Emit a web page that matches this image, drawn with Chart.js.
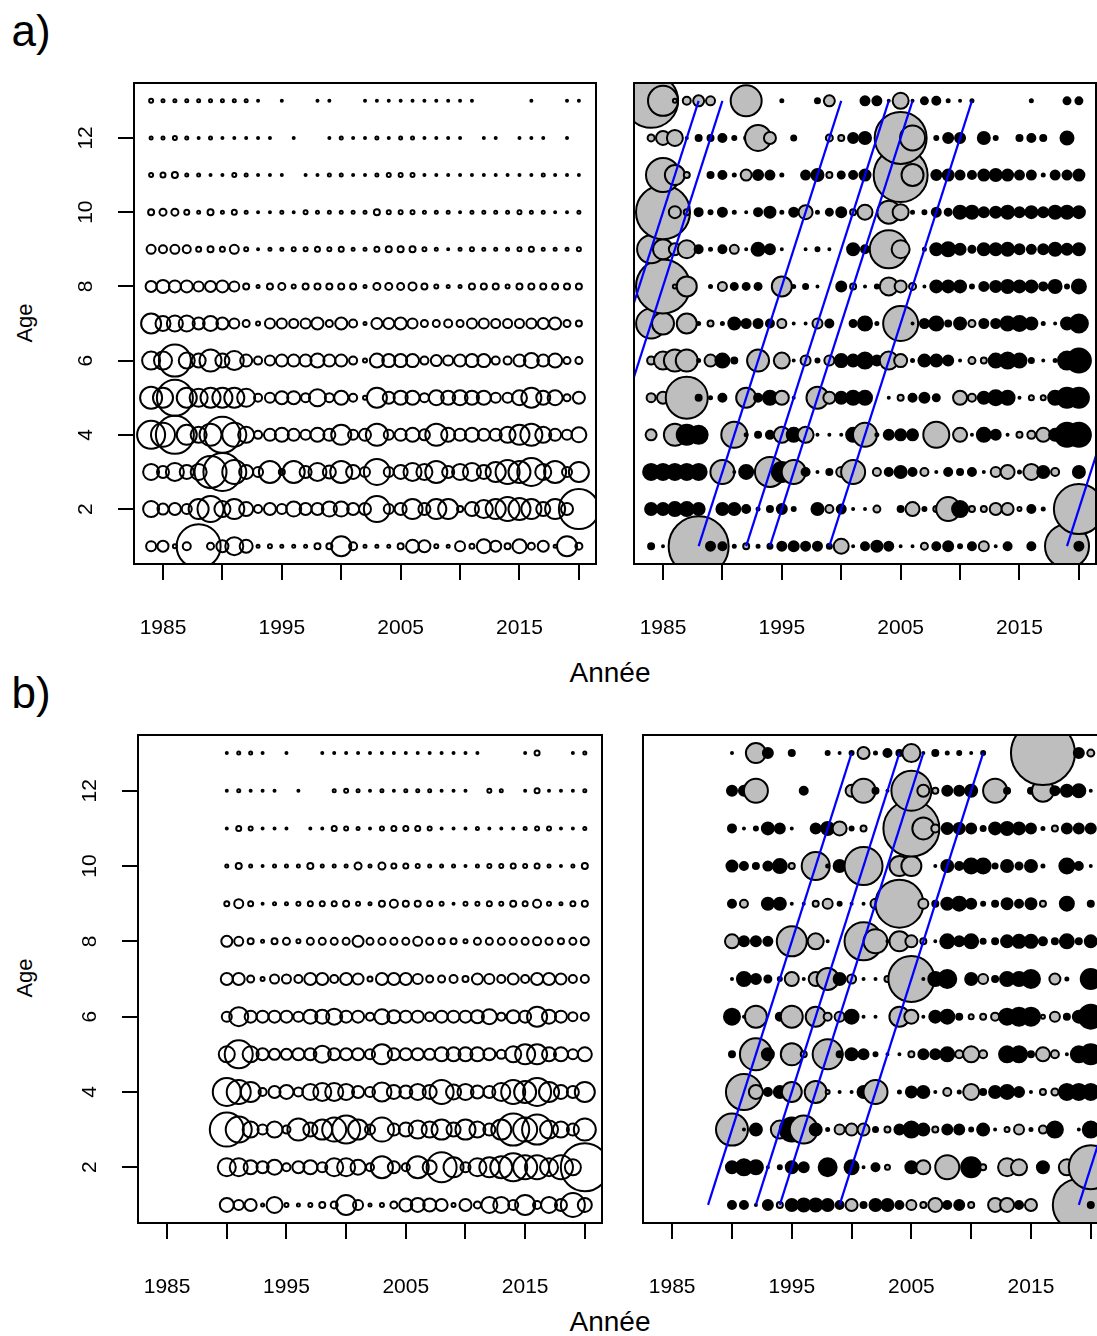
<!DOCTYPE html>
<html lang="fr">
<head>
<meta charset="UTF-8">
<script src="https://cdn.jsdelivr.net/npm/chart.js"></script>
<title>Bulles age / annee</title>
<style>
  body { margin: 0; width: 1097px; height: 1336px; overflow: hidden; background: #fff;
         font-family: "Liberation Sans", Arial, sans-serif; }
  canvas { position: absolute; }
  .lbl { position: absolute; color: #000; white-space: nowrap; line-height: 1; transform: translate(-50%, -50%); }
</style>
</head>
<body>

<div class="lbl" style="left:31px; top:31px; font-size:44px;">a)</div>
<div class="lbl" style="left:31px; top:693px; font-size:44px;">b)</div>
<div class="lbl" style="left:610px; top:673px; font-size:28px;">Année</div>
<div class="lbl" style="left:610px; top:1322px; font-size:28px;">Année</div>
<div class="lbl" style="left:25px; top:323px; font-size:22px; transform: translate(-50%, -50%) rotate(-90deg);">Age</div>
<div class="lbl" style="left:25px; top:978px; font-size:22px; transform: translate(-50%, -50%) rotate(-90deg);">Age</div>

<script>
// categories
const YEARS_A = [1984,1985,1986,1987,1988,1989,1990,1991,1992,1993,1994,1995,1996,1997,1998,1999,2000,2001,2002,
                 2003,2004,2005,2006,2007,2008,2009,2010,2011,2012,2013,2014,2015,2016,2017,2018,2019,2020];
const YEARS_B = [1990,1991,1992,1993,1994,1995,1996,1997,1998,1999,2000,2001,2002,2003,2004,2005,2006,2007,2008,
                 2009,2010,2011,2012,2013,2014,2015,2016,2017,2018,2019,2020];
const AGES = [13,12,11,10,9,8,7,6,5,4,3,2,1];
const X_TICKS = [1985,1990,1995,2000,2005,2010,2015,2020];
const X_LABELS = [1985,1995,2005,2015];
const Y_TICKS = [2,4,6,8,10,12];

// cohort lines (year at age 1)
const COHORTS_A = [1976,1978,1988,1992,1994,1999,2019];
const COHORTS_B = [1988,1992,1994,1999,2019];

// a) observed index, rows = ages 13..1, columns = YEARS_A
const obsA = [
  [2,1.5,1.5,1.5,1.5,1.5,1.5,1.5,1.5,1, 0,1,0,0,1,1,0,0,1,1, 1,1,1,1,1,1,1,1,0,0, 0,0,1,0,0,1,1],
  [1.5,1.5,2,1.5,1,1.5,1,1,1,1, 1,0,1,0,0,1,1.5,1,1,1.5, 1,1.5,1.5,1,1,1,1,0,1,1, 0,1,1,1,0,1,0],
  [2,2.5,3,1.5,1.5,1,1,2,1.5,1, 1,1,0,1,1,1.5,1.5,1,1,1.5, 2,2,2,1,1,1,1,1,1,1, 1,1,1,1.5,1,1,1],
  [3,3.5,3.5,2.5,1.5,3,1.5,2.5,1.5,1, 1,1.5,1,2,1.5,1.5,1.5,1.5,1.5,3, 2,2,2,1.5,1.5,1.5,1,1.5,1.5,1.5, 1.5,2,1.5,1.5,1,1,1.5],
  [4.5,4,4.5,4,2.5,3,2.5,4.5,2,1, 1.5,1.5,2,2,2.5,2,2.5,1.5,1.5,2.5, 3,3,3,2,1.5,1,1.5,2,1.5,1.5, 1.5,2,2.5,1.5,1.5,1.5,2],
  [5.5,6.5,6,6,5,5.5,6,5,3,1.5, 3,3.5,2,3,3,3,3,3,1.5,3.5, 3.5,3.5,4,3,2,1.5,1.5,3,3,3, 2,3,3,3,3,3,3],
  [10,7.5,8,8,6,7.5,6,5,3.5,2, 5,5,4.5,5,6,3.5,6,4,1.5,5.5, 5.5,6,5,3.5,3.5,4,3.5,5,5,4.5, 4.5,4.5,5,5.5,6,3.5,3],
  [9,9,16,8,7,11,7,9.5,6,4, 5,6,6,6,7,6,6,4,2,7, 6.5,6.5,6.5,4,5.5,5,6,6.5,6.5,4, 4,6,7.5,6,7,3.5,3.5],
  [11,10,18,10,9,10,10,10,9,4, 5,6.5,6.5,4.5,8.5,4.5,7,4,2,10, 6,7,7,4.5,7.5,7,7.5,7,7,5, 5,7.5,10,7,7.5,3.5,6],
  [14,12,19,10,8,11,18,12,8,4, 6,7,6,5,7,6,10,5,6,11, 5,6,7,5.5,11,7,6,7,6,6, 8,10,11,8,6,5,7.5],
  [8,6,9,7,8,16,19,12,7,5, 11,3,11,6,9,6.5,11,7,5,13, 5,7,9,8,11,6,8,9,7,10, 12,11,14,8,11,5,10],
  [8,5.5,6,5,10,13,8,10,7,4, 6,5,7.5,6,6,7.5,7.5,6,6,13, 5,6,10,6,10,10,3,7,9,10, 12,11,10,7,10,6,20],
  [5,5.5,2,4,22,3.5,6,9,6.5,1.5, 2,1.5,1.5,1.5,3,3,10,4,1.5,1.5, 1.5,3,6.5,6,2,1.5,5,2.5,7,5.5, 3,7,3.5,5.5,1.5,10,3.5]
];

// a) residuals (positive = grey, negative = black)
const resA = [
  [27,15,2,4,5.5,4.5,0,0,15.5,0, 0,-1.5,0,0,-2.5,5.5,0,0,-4.5,-4.5, -1,8,-1,-3.5,-4,-1.5,-1,-1.5,0,0, 0,0,-1.5,0,0,-3.5,-3.5],
  [3.5,7,8,-1,-3,-3,-4,-2,2,13, 6,0,-2.5,0,0,3.5,3,-5,-6,0, -1.5,26,12.5,0,-2,-5,-5,0,-6,-2, 0,-3,-4,-3,0,-6.5,0],
  [2.5,17,10,3,0,-3,-4,-1.5,5.5,-5, -4.5,-1.5,0,-4.5,-6,3,-3.5,-4,-5.5,0, 0,27,11,0,-5,-5.5,-4.5,-4,-5.5,-6, -5.5,-4.5,-4.5,-1.5,-4.5,-4.5,-5.5],
  [0,27,6,3,-4,-2,-4.5,-1.5,-1,-4, -5.5,-1.5,-4.5,7,-1.5,-3.5,-5,3,7.5,0, 11.5,8,-1.5,-2,-4.5,-3.5,-6.5,-6.5,-5,-5.5, -6.5,-5,-6,-5,-6.5,-6.5,-6],
  [14,10,6,9,-4,-1.5,-4,4.5,-1,-6.5, -5,-1,0,-1,-2,-1,0,-6,-4,0, 19,9,0,-1.5,-6,-7,-5.5,-3.5,-6,-6, -6.5,-5,-4.5,-5,-6.5,-5.5,-6],
  [0,27,2,10,0,-1.5,4.5,-3.5,-3.5,-3.5, 0,10,-1.5,-2.5,-1,0,-5,3,-1,-2, 9,6,3.5,-1,-6,-6,-6,-2,-4.5,-5.5, -6.5,-6,-6,-4,-6.5,-2,-7],
  [15,11,0,10,-1.5,3,-1.5,-6,-4.5,-4.5, -4,4.5,-1,-1,5,-4,0,-3.5,-7,-1.5, 0,17.5,-1,-4.5,-7,-3,-6,3.5,-4.5,-4.5, -7,-7.5,-6,-1.5,-1,-6,-9],
  [4,9,11,11,-1.5,6,-7,-3,0,11, 0,8,-1,5,-2,5,-6.5,-6,-8,-5, 9,6.5,-1.5,-6,-6,-5,-1,3.5,3,-7, -8,-7,-2.5,-1,-1.5,-9,-12],
  [4.5,6,0,21,-3,-1.5,-4,0,10,-4, -7,7,-1,0,11,6,-6,-7,-7,0, -1,3,-4,-5,-3.5,0,7,4,-6,-7.5, -7,-1,2.5,2.5,-7,-10,-10],
  [5.5,0,11,-10,-9,0,0,13,-1.5,-3, -4,8,-7,8,-1,-1,-1,-7,12,-1.5, -5,-5.5,-5.5,0,13,0,7,-1,-7,-5, -1,3,4,7,-6,-12,-12],
  [-8,-8,-8,-8,-8,0,12,-1,-7,0, 15,-10,12,-4,-1,-3,5,12,0,4, -4,-6,-4,4,-1,-4,-3,-4,-1,5, 7,-1.5,8,-6,4,0,-6],
  [-6,-6,-7,-7,-6,0,-6,-6,-4,-1.5, -3,-5,-2,0,-6,4,-4.5,-1,-1,3.5, 0,-3,7,-2,3,12,-8,3,3,6, 6,2,-4,-1.5,0,0,25],
  [-3,-1,-4.5,-4,30,-4.5,-4,-1.5,3,-1.5, -2.5,-4.5,-5,-4.5,-4.5,-2.5,7.5,-1,-4,-5.5, -4.5,-1,-1,3.5,-4,-5,-2,-4,5,-1, -4,0,-4,0,0,22,-4.5]
];

// b) observed index, columns = YEARS_B
const obsB = [
  [1,1.5,1.5,1,0,1,0,0,1,1, 1,1,1,1,1,1,1,1,1,1, 1,1,0,0,0,1,2.5,0,0,1, 1.5],
  [1,1.5,1,1,1,0,1,0,0,1.5, 2,1.5,1,1.5,1,1.5,1.5,1.5,1,1, 1,0,2,1.5,0,1,2.5,1,1,1, 1.5],
  [1,2.5,2,1,1,1,0,1,1,2.5, 2,1.5,1,2,2.5,2.5,2.5,2,1,1, 1,1.5,1,1,1,1.5,2,2,1,1, 1.5],
  [1.5,3,1.5,1,1.5,1.5,1.5,3,1.5,1.5, 1.5,3.5,1.5,3.5,2.5,2.5,2,1.5,1.5,1.5, 1,1.5,2,2,2.5,2,2.5,1.5,1,1.5, 3],
  [2.5,4.5,2.5,1,1.5,1.5,2,2.5,2.5,2.5, 3,2,1.5,3,4,3,3,2.5,2,1, 2,2,2.5,2,3,2.5,4,2,1.5,2.5, 3],
  [5.5,4.5,3,1.5,3,3.5,2,3.5,3.5,3.5, 3.5,5.5,3.5,3.5,3.5,3.5,4.5,3.5,3,3, 2,3.5,3.5,3.5,3.5,3.5,4,3.5,3,3.5, 4],
  [6,6,3.5,2,4.5,4.5,4,6,6,4, 6,5.5,2.5,6,6,6,5,3.5,3.5,4, 3,5.5,5,4,5.5,4,6,6,5.5,4, 4],
  [5,9.5,6,6,6,6,5,7,7,8, 6,6,4,7.5,6.5,6,6,4.5,6,6, 6,6.5,7.5,4,6.5,6,10,7,6,4.5, 4],
  [8,14,8,6,5.5,5.5,6,6,8.5,6, 6,6,5,10,6,6,6,5.5,7,7, 7,7,6,4.5,8,10,10,7,7,5, 7],
  [14,12,10,4,6,7,4.5,8,9,9, 8,6,5,9.5,7,6.5,8,7,12,7.5, 8,6.5,6,9,12,11,14,10,7,6, 10],
  [17,13,8,5,8,4,11,7,10,12, 14,10,5,12,6,7,9,8,10,7, 10,8,6,10,16,12,15,9,8,6, 11],
  [9,9,7,6,7.5,4,6,7,5,9, 9,7.5,4,11,6,4,11,7,15,10, 5,9,10,11,14,12,12,9,12,8, 24],
  [7,5,6,1.5,8,2,1.5,2,3,3.5, 10,5,1.5,2,3.5,6.5,7,6.5,6,2, 6,3.5,8,8,5,10,4,8,6,12, 7]
];

// b) residuals
const resB = [
  [-1,0,10,-5,0,-3,0,0,-2,-1, -2,6,-1.5,-4,-3,9,-1,-3,-1.5,-2, -1,-2,0,0,0,0,32,0,0,-5, 3.5],
  [-5,-5,12,0,0,0,-4,0,0,0, 6,12,-3,-1,-1.5,20,6,3,-5,-5, -6,0,12,-3,0,-3,11,-4.5,-6,-6.5, -1],
  [-4,-1,-2,-6,-5,-1,0,-5,-6.5,7, -2,3,0,0,0,28,11,4,-5.5,-5.5, -5,-2.5,-6,-6.5,-6,-5,-1.5,3,-5,-5, -5],
  [-5.5,-4,-3,-4.5,-7,3,0,14,-1.5,-6, 0,19,0,0,10,10,0,-1,-6,-4, -7.5,-7.5,-2.5,-6,-3.5,-6,-1.5,0,-7.5,-4, -1],
  [-4,4,0,-6,-6,-1,-1,3,5,-2, -1,-1,5,0,24,0,5,-3,-6,-7, -5,-2,-3,-5.5,-4,-5.5,3,0,-7,0, -3],
  [7,-5,-5,-4.5,0,15,0,8,-1,0, 0,19,12,-1,10,6,3,-1,-7,-5, -7,-2.5,-3,-6,-6.5,-6.5,-4,-3,-7,-3, -6],
  [-1,-7,-5,-3.5,-2,7,-1,7,11,-6, 4.5,-1,-1,3,0,23,-1,-7,-9,0, -6,5,-3,-7,-7,-9,0,5.5,-1.5,0, -10],
  [-8,-1,11,0,-4,11,0,10,4,5, -7,-1,-1,0,10,7,-1,-6,-7,-3, 2.5,3,4,-8,-9,-9,2,5,-3,-6, -12],
  [-3,0,16,-6,0,11,3,0,15,-3, -6,-5,-2,-1,-1,3,-5,-5,-7,4, 8,4,0,-8,-8,-3,7,4,-1,-8, -10],
  [3,18,7,-4,-6,10,0,11,2,-1, -1,-6,12,0,-1.5,-5.5,-6,-1,4,-1.5, 8,-3,-6,-7,-5,-1,3,3.5,-8,-8, -8],
  [16,-1,-6,0,9,-12,14,-6,-1.5,5, 6,6,-2.5,3,-5,-8,-6,3,-5,-5, -2,-6,-1,2.5,5,-1.5,4,-8,0,-1, -8],
  [-6,-8,-7,-1,-2,-6,-5,0,-9,0, -7,-1,-4,2.5,0,-6,7,0,12,0, -10,3,0,9,8,0,-6,0,8,0, 22],
  [-4,-4,-1,-5,3,-6,-6.5,-6.5,-6,-4, 6,-3,-6,-6,-4,5,3,7,-4,-5, 3,0,7,7,-4,6,0,0,0,26, -3]
];

const R_UNIT = 1;          // bubble radius per unit of value
const GREY = '#bebebe';
const FONT = { family: '"Liberation Sans", Arial, sans-serif', size: 21 };

// canvas margins round each plot box
const LW = 100, TP = 6, RP = 14, BH = 80;

const PANELS = [
  { left: 134, top: 83,  w: 462, h: 481, rows: obsA, years: YEARS_A, resid: false, cohorts: [] },
  { left: 634, top: 83,  w: 462, h: 481, rows: resA, years: YEARS_A, resid: true,  cohorts: COHORTS_A },
  { left: 138, top: 735, w: 464, h: 488, rows: obsB, years: YEARS_B, resid: false, cohorts: [] },
  { left: 643, top: 735, w: 465, h: 488, rows: resB, years: YEARS_B, resid: true,  cohorts: COHORTS_B }
];

// box round the plot region
const boxPlugin = {
  id: 'box',
  afterDatasetsDraw(chart) {
    const { ctx, chartArea: a } = chart;
    ctx.save();
    ctx.strokeStyle = '#000';
    ctx.lineWidth = 2;
    ctx.strokeRect(a.left, a.top, a.right - a.left, a.bottom - a.top);
    ctx.restore();
  }
};

// keep the plot box exactly where it is asked for
function noPad(s) {
  s.paddingTop = 0; s.paddingBottom = 0; s.paddingLeft = 0; s.paddingRight = 0;
}

function bubblePoints(rows, years) {
  const pts = [];
  // age 1 first so the upper rows are drawn on top
  for (let i = AGES.length - 1; i >= 0; i--) {
    rows[i].forEach((v, j) => {
      if (v !== 0) pts.push({ x: years[j], y: AGES[i], r: Math.abs(v) * R_UNIT, v: v });
    });
  }
  return pts;
}

function makePanel(p) {
  const cv = document.createElement('canvas');
  const cw = LW + p.w + RP, ch = TP + p.h + BH;
  cv.width = cw; cv.height = ch;
  cv.style.left = (p.left - LW) + 'px';
  cv.style.top = (p.top - TP) + 'px';
  cv.style.width = cw + 'px'; cv.style.height = ch + 'px';
  document.body.appendChild(cv);

  const datasets = [{
    type: 'bubble',
    data: bubblePoints(p.rows, p.years),
    backgroundColor: p.resid ? (c => (c.raw && c.raw.v > 0 ? GREY : '#000')) : 'rgba(0,0,0,0)',
    borderColor: '#000',
    borderWidth: 2,
    hoverRadius: 0,
    clip: 0,
    order: 1
  }];
  p.cohorts.forEach(c => {
    datasets.push({
      type: 'line',
      data: [{ x: c, y: 1 }, { x: c + 12, y: 13 }],
      borderColor: '#0000ff',
      borderWidth: 2.2,
      pointRadius: 0,
      clip: 0,
      order: 0
    });
  });

  new Chart(cv, {
    type: 'bubble',
    data: { datasets },
    options: {
      responsive: false,
      animation: false,
      devicePixelRatio: 1,
      events: [],
      layout: { autoPadding: false, padding: { top: TP, right: RP, left: 0, bottom: 0 } },
      plugins: { legend: { display: false }, tooltip: { enabled: false } },
      scales: {
        x: {
          type: 'linear', min: 1982.56, max: 2021.44,
          afterBuildTicks: s => { s.ticks = X_TICKS.map(v => ({ value: v })); },
          afterFit: s => { s.height = BH; noPad(s); },
          border: { display: false },
          grid: { drawOnChartArea: false, drawTicks: true, tickLength: 16, color: '#000', lineWidth: 2 },
          ticks: {
            autoSkip: false, maxRotation: 0, padding: 36, color: '#000', font: FONT,
            callback: v => (X_LABELS.includes(v) ? String(v) : '')
          }
        },
        y: {
          type: 'linear', min: 0.52, max: 13.48,
          afterBuildTicks: s => { s.ticks = Y_TICKS.map(v => ({ value: v })); },
          afterFit: s => { s.width = LW; noPad(s); },
          border: { display: false },
          grid: { display: !p.resid, drawOnChartArea: false, drawTicks: true, tickLength: 16, color: '#000', lineWidth: 2 },
          ticks: {
            display: !p.resid, minRotation: 90, maxRotation: 90, crossAlign: 'center',
            padding: 20, color: '#000', font: FONT
          }
        }
      }
    },
    plugins: [boxPlugin]
  });
}

PANELS.forEach(makePanel);
</script>
</body>
</html>
